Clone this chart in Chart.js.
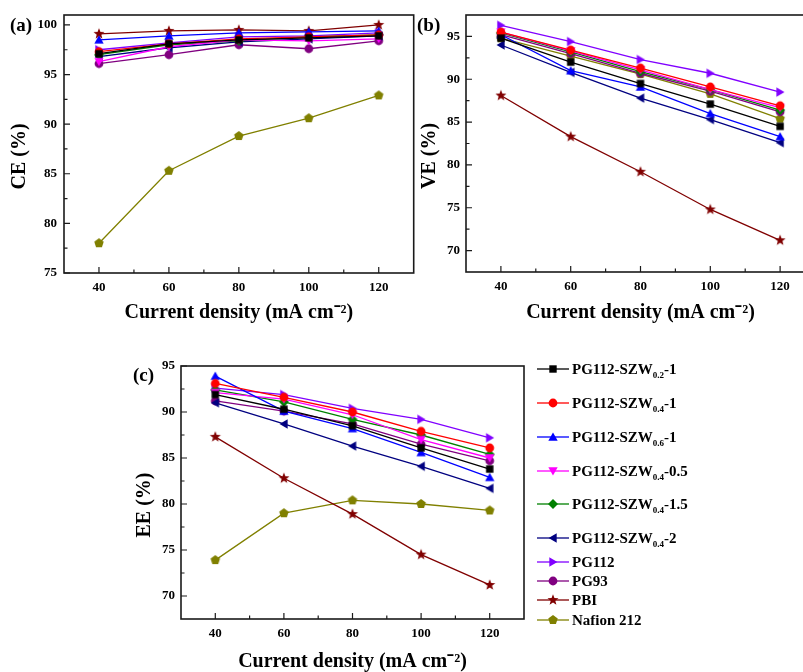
<!DOCTYPE html>
<html>
<head>
<meta charset="utf-8">
<script src="https://cdn.jsdelivr.net/npm/chart.js@4.4.0/dist/chart.umd.min.js"></script>
<style>
    html, body { margin: 0; padding: 0; background: #fff; }
    body { position: relative; width: 803px; height: 672px; overflow: hidden; font-family: "Liberation Serif", "Times New Roman", serif; font-weight: bold; color: #000; }
    canvas.panel { position: absolute; }
    .tag { position: absolute; font-size: 19px; line-height: 19px; }
    .row { position: absolute; left: 537px; height: 20px; white-space: nowrap; font-size: 15px; line-height: 20px; }
    .row canvas { position: absolute; left: 0; top: 3px; }
    .row span.txt { position: absolute; left: 35px; top: 0; }
    .row sub { font-size: 9px; vertical-align: -4px; line-height: 0; }
</style>
</head>
<body>
<canvas class="panel" id="ceChart" width="420" height="330" style="left:0;top:0"></canvas>
<canvas class="panel" id="veChart" width="420" height="330" style="left:410px;top:0"></canvas>
<canvas class="panel" id="eeChart" width="420" height="350" style="left:120px;top:330px"></canvas>
<div class="tag" style="left:10px;top:15px">(a)</div>
<div class="tag" style="left:417px;top:15px">(b)</div>
<div class="tag" style="left:133px;top:365px">(c)</div>
<div id="legend"></div>

<script>
const currentDensity = [40, 60, 80, 100, 120];
const xTicks = [40, 60, 80, 100, 120];
const ceTicks = [75, 80, 85, 90, 95, 100];
const veTicks = [70, 75, 80, 85, 90, 95];
const eeTicks = [70, 75, 80, 85, 90, 95];

const seriesNames = ['PG112-SZW0.2-1', 'PG112-SZW0.4-1', 'PG112-SZW0.6-1', 'PG112-SZW0.4-0.5', 'PG112-SZW0.4-1.5',
    'PG112-SZW0.4-2', 'PG112', 'PG93', 'PBI', 'Nafion 212'];
const seriesColors = ['#000000', '#ff0000', '#0000ff', '#ff00ff', '#008000', '#000080', '#8000ff', '#800080', '#800000', '#808000'];
const seriesMarkers = ['square', 'circle', 'up', 'down', 'diamond', 'left', 'right', 'circle', 'star', 'pentagon'];

// rows follow seriesNames
const ceValues = [
    [97.1, 98.1, 98.5, 98.7, 98.9],
    [97.3, 98.1, 98.6, 98.8, 99.0],
    [98.5, 98.9, 99.2, 99.3, 99.4],
    [96.3, 97.8, 98.5, 98.4, 98.6],
    [97.0, 98.0, 98.4, 98.8, 99.0],
    [96.8, 97.7, 98.3, 98.6, 98.9],
    [97.5, 98.2, 98.8, 98.9, 99.2],
    [96.1, 97.0, 98.0, 97.6, 98.4],
    [99.1, 99.4, 99.5, 99.4, 100.0],
    [78.0, 85.3, 88.8, 90.6, 92.9]
];
const veValues = [
    [94.8, 92.0, 89.5, 87.1, 84.5],
    [95.5, 93.4, 91.3, 89.1, 86.9],
    [95.2, 91.0, 89.1, 86.0, 83.3],
    [95.5, 93.3, 91.1, 88.8, 86.7],
    [95.4, 93.2, 90.9, 88.8, 86.4],
    [94.0, 90.8, 87.8, 85.3, 82.6],
    [96.3, 94.4, 92.3, 90.7, 88.5],
    [95.2, 93.0, 90.7, 88.6, 86.2],
    [88.1, 83.3, 79.2, 74.8, 71.2],
    [94.8, 92.7, 90.6, 88.3, 85.4]
];
const eeValues = [
    [91.9, 90.3, 88.5, 86.1, 83.8],
    [93.1, 91.6, 90.0, 87.9, 86.1],
    [93.9, 90.1, 88.2, 85.6, 82.9],
    [92.1, 91.4, 89.7, 87.0, 85.0],
    [92.4, 91.1, 89.2, 87.5, 85.4],
    [91.0, 88.7, 86.3, 84.1, 81.7],
    [92.6, 91.9, 90.4, 89.2, 87.2],
    [91.2, 90.1, 88.7, 86.5, 84.7],
    [87.3, 82.8, 78.9, 74.5, 71.2],
    [73.9, 79.0, 80.4, 80.0, 79.3]
];

const FONT = '"Liberation Serif", "Times New Roman", serif';
const legendY = [369, 403, 437, 471, 504, 538, 562, 581, 600, 620];
// trailing spaces push the rotated titles a little below the axis centre, as in the original
const TITLE_PAD = '\u00A0\u00A0\u00A0\u00A0\u00A0';

function polygon(g, n, r, startDeg, inner) {
    const pts = inner ? n * 2 : n;
    for (let i = 0; i < pts; i++) {
        const a = (startDeg + i * 360 / pts) * Math.PI / 180;
        const rr = inner && i % 2 ? inner : r;
        const px = Math.cos(a) * rr, py = Math.sin(a) * rr;
        i ? g.lineTo(px, py) : g.moveTo(px, py);
    }
    g.closePath();
}

function makeMarker(shape, color) {
    const c = document.createElement('canvas');
    c.width = 14; c.height = 14;
    const g = c.getContext('2d');
    g.fillStyle = color;
    g.translate(7, 7);
    g.beginPath();
    if (shape === 'square') g.rect(-3.7, -3.7, 7.4, 7.4);
    else if (shape === 'circle') g.arc(0, 0, 4.4, 0, Math.PI * 2);
    else if (shape === 'up') { g.translate(0, 1); polygon(g, 3, 5.4, -90); }
    else if (shape === 'down') { g.translate(0, -1); polygon(g, 3, 5.4, 90); }
    else if (shape === 'left') { g.translate(1, 0); polygon(g, 3, 5.4, 180); }
    else if (shape === 'right') { g.translate(-1, 0); polygon(g, 3, 5.4, 0); }
    else if (shape === 'diamond') polygon(g, 4, 5.0, -90);
    else if (shape === 'pentagon') polygon(g, 5, 5.0, -90);
    else if (shape === 'star') polygon(g, 5, 5.8, -90, 2.4);
    g.fill();
    return c;
}

const markerImages = seriesMarkers.map((m, i) => makeMarker(m, seriesColors[i]));

function midpoints(ticks, min, max) {
    const step = ticks[1] - ticks[0];
    const out = [];
    for (let v = ticks[0] - step / 2; v <= ticks[ticks.length - 1] + step / 2; v += step) {
        if (v > min && v < max) out.push(v);
    }
    return out;
}

const framePlugin = {
    id: 'frame',
    afterDraw(chart) {
        const { ctx, chartArea: a, scales: { x, y } } = chart;
        ctx.save();
        ctx.strokeStyle = '#1a1a1a';
        ctx.lineWidth = 1.2;
        ctx.beginPath();
        x.ticks.forEach(t => { const px = x.getPixelForValue(t.value); ctx.moveTo(px, a.bottom); ctx.lineTo(px, a.bottom - 6); });
        midpoints(xTicks, x.min, x.max).forEach(v => { const px = x.getPixelForValue(v); ctx.moveTo(px, a.bottom); ctx.lineTo(px, a.bottom - 3.5); });
        y.ticks.forEach(t => { const py = y.getPixelForValue(t.value); ctx.moveTo(a.left, py); ctx.lineTo(a.left + 6, py); });
        midpoints(y.ticks.map(t => t.value), y.min, y.max).forEach(v => { const py = y.getPixelForValue(v); ctx.moveTo(a.left, py); ctx.lineTo(a.left + 3.5, py); });
        ctx.stroke();
        ctx.lineWidth = 1.6;
        ctx.strokeRect(a.left, a.top, a.right - a.left, a.bottom - a.top);
        ctx.restore();
    }
};

function drawPanel(id, values, yTicks, yMin, yMax, yTitle, box) {
    return new Chart(document.getElementById(id), {
        type: 'line',
        data: {
            labels: currentDensity,
            datasets: values.map((vals, i) => ({
                label: seriesNames[i],
                data: vals.map((v, k) => ({ x: currentDensity[k], y: v })),
                borderColor: seriesColors[i],
                backgroundColor: seriesColors[i],
                borderWidth: 1.3,
                pointStyle: markerImages[i],
                pointRadius: 5,
                tension: 0
            }))
        },
        options: {
            responsive: false,
            animation: false,
            events: [],
            layout: { padding: { left: 0, top: box.top, right: box.right, bottom: 0 } },
            plugins: { legend: { display: false }, tooltip: { enabled: false } },
            scales: {
                x: {
                    type: 'linear', min: 30, max: 130,
                    afterBuildTicks: s => { s.ticks = xTicks.map(v => ({ value: v })); },
                    afterFit: s => { s.height = box.xh; },
                    grid: { display: false, drawTicks: false },
                    border: { display: false },
                    ticks: { color: '#000', padding: 7, font: { family: FONT, size: 13, weight: 'bold' } },
                    title: { display: true, text: 'Current density (mA cm\u207B\u00B2)', color: '#000',
                        padding: { top: 0, bottom: box.xtp }, font: { family: FONT, size: 20, weight: 'bold' } }
                },
                y: {
                    type: 'linear', min: yMin, max: yMax,
                    afterBuildTicks: s => { s.ticks = yTicks.map(v => ({ value: v })); },
                    afterFit: s => { s.width = box.yw; },
                    grid: { display: false, drawTicks: false },
                    border: { display: false },
                    ticks: { color: '#000', padding: box.ypad, font: { family: FONT, size: 13, weight: 'bold' } },
                    title: { display: true, text: yTitle + TITLE_PAD, color: '#000',
                        padding: { top: box.ytp, bottom: 0 }, font: { family: FONT, size: 20, weight: 'bold' } }
                }
            }
        },
        plugins: [framePlugin]
    });
}

drawPanel('ceChart', ceValues, ceTicks, 75, 101, 'CE (%)', { top: 15, right: 6, xh: 57, yw: 64, ypad: 7, ytp: 8, xtp: 5 });
drawPanel('veChart', veValues, veTicks, 67.5, 97.5, 'VE (%)', { top: 15, right: 15, xh: 58, yw: 56, ypad: 6, ytp: 8, xtp: 5 });
drawPanel('eeChart', eeValues, eeTicks, 67.5, 95, 'EE (%)', { top: 36, right: 16, xh: 61, yw: 61, ypad: 6, ytp: 13, xtp: 6 });

// legend with subscripts
const legend = document.getElementById('legend');
seriesNames.forEach((name, i) => {
    const row = document.createElement('div');
    row.className = 'row';
    row.style.top = (legendY[i] - 10) + 'px';
    const c = document.createElement('canvas');
    c.width = 32; c.height = 14;
    const g = c.getContext('2d');
    g.strokeStyle = seriesColors[i];
    g.lineWidth = 1.3;
    g.beginPath(); g.moveTo(0, 7); g.lineTo(32, 7); g.stroke();
    g.drawImage(markerImages[i], 9, 0);
    row.appendChild(c);
    const txt = document.createElement('span');
    txt.className = 'txt';
    const m = name.match(/^(PG112-SZW)(0\.\d)(.*)$/);
    if (m) {
        txt.append(m[1]);
        const sub = document.createElement('sub');
        sub.textContent = m[2];
        txt.appendChild(sub);
        txt.append(m[3]);
    } else {
        txt.textContent = name;
    }
    row.appendChild(txt);
    legend.appendChild(row);
});
</script>
</body>
</html>
